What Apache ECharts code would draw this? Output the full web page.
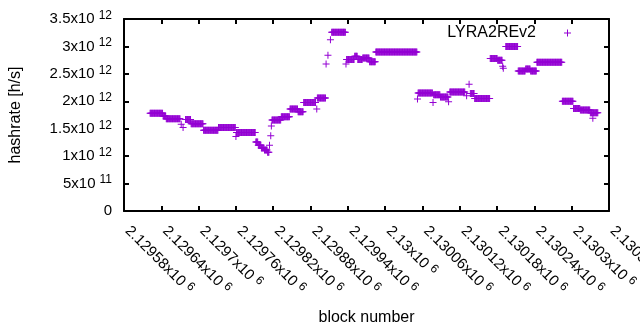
<!DOCTYPE html>
<html>
<head>
<meta charset="utf-8">
<script src="https://cdn.jsdelivr.net/npm/echarts@6/dist/echarts.min.js"></script>
<style>
  html, body { margin: 0; padding: 0; background: #fff; }
  #wrap { position: relative; width: 640px; height: 330px; }
  #chart, #frame { position: absolute; left: 0; top: 0; width: 640px; height: 330px; }
  #frame { pointer-events: none; }
</style>
</head>
<body>
<div id="wrap">
  <div id="chart"></div>
  <div id="frame"></div>
</div>
<script>
// hashrate steps: block range [start, end] and value in 1e12 h/s
var runStart = [2129622, 2129643, 2129648, 2129672, 2129675, 2129679, 2129688, 2129708, 2129732, 2129760,
                2129761, 2129792, 2129796, 2129801, 2129806, 2129811, 2129814, 2129816, 2129817, 2129818,
                2129833, 2129847, 2129860, 2129869, 2129890, 2129891, 2129905, 2129908, 2129912, 2129914,
                2129937, 2129938, 2129951, 2129956, 2129964, 2129975, 2129985, 2130052, 2130053, 2130077,
                2130078, 2130089, 2130102, 2130104, 2130131, 2130135, 2130137, 2130144, 2130169, 2130181,
                2130189, 2130190, 2130194, 2130214, 2130226, 2130234, 2130244, 2130285, 2130303, 2130314,
                2130330, 2130334];
var runEnd   = [2129642, 2129647, 2129670, 2129672, 2129675, 2129687, 2129707, 2129731, 2129759, 2129760,
                2129791, 2129795, 2129800, 2129805, 2129810, 2129813, 2129814, 2129816, 2129817, 2129832,
                2129846, 2129859, 2129868, 2129888, 2129890, 2129904, 2129905, 2129908, 2129912, 2129936,
                2129937, 2129950, 2129955, 2129963, 2129974, 2129984, 2130051, 2130052, 2130076, 2130077,
                2130088, 2130101, 2130102, 2130128, 2130131, 2130135, 2130143, 2130168, 2130180, 2130188,
                2130189, 2130190, 2130213, 2130225, 2130233, 2130243, 2130284, 2130302, 2130313, 2130329,
                2130342, 2130334];
var runValue = [1.78, 1.73, 1.68, 1.58, 1.52, 1.67, 1.59, 1.47, 1.52, 1.36,
                1.43, 1.26, 1.20, 1.15, 1.11, 1.07, 1.20, 1.37, 1.55, 1.66,
                1.72, 1.86, 1.81, 1.98, 1.86, 2.06, 2.68, 2.84, 3.12, 3.26,
                2.68, 2.76, 2.82, 2.76, 2.79, 2.72, 2.90, 2.04, 2.15, 1.98,
                2.12, 2.08, 1.99, 2.17, 2.10, 2.31, 2.14, 2.05, 2.78, 2.75,
                2.64, 2.60, 3.00, 2.55, 2.59, 2.55, 2.71, 2.00, 1.87, 1.84,
                1.79, 1.69];

// tick labels
var xTickMantissa = ['2.12958', '2.12964', '2.1297', '2.12976', '2.12982', '2.12988', '2.12994',
                     '2.13', '2.13006', '2.13012', '2.13018', '2.13024', '2.1303', '2.13036'];
var xTickExponent = '6';
var yTickMantissa = ['0', '5', '1', '1.5', '2', '2.5', '3', '3.5'];
var yTickExponent = ['', '11', '12', '12', '12', '12', '12', '12'];

var xMin = 2129580, xMax = 2130360, xStep = 60;
var yMin = 0, yMax = 3.5e12, yStep = 5e11;

// one point per block
var points = [];
for (var i = 0; i < runStart.length; i++) {
    for (var b = runStart[i]; b <= runEnd[i]; b++) {
        points.push([b, runValue[i] * 1e12]);
    }
}

var plus = 'path://M0,3H3V0H4V3H7V4H4V7H3V4H0Z';
var font = '"Liberation Sans", Arial, sans-serif';

function box() {
    return { left: 124, right: 31, top: 19, bottom: 119, outerBoundsMode: 'none' };
}
function sci(m, e) {
    return e ? m + 'x10{sup|' + e + '}' : m;
}
function supStyle() {
    return { fontSize: 12, lineHeight: 12, fontFamily: font, color: '#000',
             verticalAlign: 'bottom', padding: [0, 0, 7, 4] };
}

// main chart: labels, names, legend and the points
var myChart = echarts.init(document.getElementById('chart'));
myChart.setOption({
    animation: false,
    grid: box(),
    legend: {
        right: 64,
        top: 20,
        align: 'right',
        itemWidth: 7,
        itemHeight: 7,
        data: [{ name: 'LYRA2REv2', icon: plus }],
        textStyle: { fontSize: 16, fontFamily: font, color: '#000', padding: [0, 23, 0, 0] }
    },
    xAxis: {
        type: 'value',
        min: xMin, max: xMax, interval: xStep,
        name: 'block number',
        nameLocation: 'middle',
        nameGap: 99,
        nameTextStyle: { fontSize: 16, fontFamily: font, color: '#000' },
        axisLine: { show: false },
        axisTick: { show: false },
        splitLine: { show: false },
        axisLabel: {
            rotate: -45,
            margin: 14,
            padding: [0, 0, 0, 5],
            fontSize: 15,
            lineHeight: 19,
            fontFamily: font,
            color: '#000',
            showMinLabel: true,
            showMaxLabel: true,
            hideOverlap: false,
            formatter: function (v) {
                return sci(xTickMantissa[Math.round((v - xMin) / xStep)], xTickExponent);
            },
            rich: { sup: supStyle() }
        }
    },
    yAxis: {
        type: 'value',
        min: yMin, max: yMax, interval: yStep,
        name: 'hashrate [h/s]',
        nameLocation: 'middle',
        nameGap: 100,
        nameTextStyle: { fontSize: 16, fontFamily: font, color: '#000' },
        axisLine: { show: false },
        axisTick: { show: false },
        splitLine: { show: false },
        axisLabel: {
            margin: 12,
            fontSize: 15,
            lineHeight: 19,
            fontFamily: font,
            color: '#000',
            formatter: function (v) {
                var k = Math.round(v / yStep);
                return sci(yTickMantissa[k], yTickExponent[k]);
            },
            rich: { sup: supStyle() }
        }
    },
    series: [{
        name: 'LYRA2REv2',
        type: 'scatter',
        symbol: plus,
        symbolSize: 7,
        itemStyle: { color: '#9400d3', opacity: 1 },
        data: points
    }]
});

// frame: axis lines with inward ticks on all four sides.
// second grid uses an inverted y scale so its zero (where the x axis sits) is the top edge
function frameAxis(gridIndex, pos, min, max, step, inverse) {
    return {
        type: 'value', gridIndex: gridIndex, position: pos,
        min: min, max: max, interval: step, inverse: !!inverse,
        axisLine: { show: true, lineStyle: { color: '#000', width: 2 } },
        axisTick: { show: true, inside: true, length: 5, lineStyle: { color: '#000', width: 2 } },
        axisLabel: { show: false },
        splitLine: { show: false }
    };
}
var frameChart = echarts.init(document.getElementById('frame'));
frameChart.setOption({
    animation: false,
    grid: [box(), box()],
    xAxis: [frameAxis(0, 'bottom', xMin, xMax, xStep), frameAxis(1, 'top', xMin, xMax, xStep)],
    yAxis: [frameAxis(0, 'left', yMin, yMax, yStep), frameAxis(1, 'right', yMin, yMax, yStep, true)],
    series: [
        { type: 'scatter', xAxisIndex: 0, yAxisIndex: 0, symbol: 'none', silent: true, data: points },
        { type: 'scatter', xAxisIndex: 1, yAxisIndex: 1, symbol: 'none', silent: true, data: points }
    ]
});
</script>
</body>
</html>
